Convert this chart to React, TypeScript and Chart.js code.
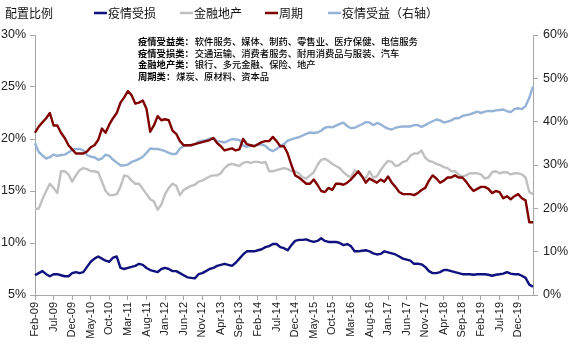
import React, { useEffect, useRef } from "react";
import { Chart, registerables } from "chart.js";

Chart.register(...registerables);

// ---- categories: monthly, Feb-09 .. Apr-20 ----
const MONTH_NAMES = ["Jan", "Feb", "Mar", "Apr", "May", "Jun", "Jul", "Aug", "Sep", "Oct", "Nov", "Dec"];
const START_YEAR = 2009;
const START_MONTH = 1; // Feb
const N_POINTS = 135;
const categories: string[] = [];
for (let i = 0; i < N_POINTS; i++) {
  const m = START_MONTH + i;
  const y = START_YEAR + Math.floor(m / 12);
  categories.push(`${MONTH_NAMES[m % 12]}-${String(y % 100).padStart(2, "0")}`);
}

// ---- series (percent) ----
// 疫情受损 (left axis)
const hurtSeries = [
  6.9, 7.1, 7.3, 7.0, 6.8, 7.0, 7.0, 6.9, 6.8, 6.8,
  7.1, 7.2, 7.1, 7.2, 7.7, 8.2, 8.5, 8.7, 8.5, 8.3,
  8.2, 8.6, 8.7, 7.6, 7.5, 7.6, 7.7, 7.8, 8.0, 7.9,
  7.6, 7.4, 7.3, 7.2, 7.5, 7.6, 7.5, 7.3, 7.3, 7.1,
  6.9, 6.7, 6.65, 6.6, 7.0, 7.1, 7.3, 7.5, 7.6, 7.8,
  7.9, 8.0, 7.9, 7.8, 8.1, 8.5, 8.9, 9.2, 9.2, 9.2,
  9.3, 9.4, 9.6, 9.7, 9.9, 9.9, 9.6, 9.5, 9.3, 9.8,
  10.2, 10.3, 10.3, 10.35, 10.2, 10.1, 10.2, 10.45, 10.2, 10.1,
  10.1, 10.1, 10.0, 9.8, 9.9, 9.7, 9.2, 9.2, 9.25, 9.3,
  9.2, 9.0, 8.9, 8.95, 9.2, 9.1, 9.0, 8.9, 8.7, 8.5,
  8.4, 8.3, 8.0, 8.0, 7.95, 7.7, 7.3, 7.1, 7.1, 7.2,
  7.4, 7.4, 7.3, 7.2, 7.1, 7.0, 7.0, 7.0, 6.95, 7.0,
  7.0, 7.0, 6.95, 6.85, 6.95, 7.0, 7.05, 7.2, 7.05, 7.0,
  7.0, 6.85, 6.65, 6.0, 5.8,
];

// 金融地产 (left axis)
const financeSeries = [
  13.3, 13.3, 14.2, 15.0, 15.7, 15.3, 14.8, 16.9, 16.9, 16.6,
  15.9, 16.5, 17.0, 17.2, 17.1, 16.9, 16.9, 16.8, 15.9, 15.0,
  14.6, 14.6, 14.7, 15.4, 16.5, 16.4, 16.0, 15.7, 15.7, 15.2,
  14.7, 14.2, 14.0, 13.2, 13.7, 14.7, 15.3, 15.7, 15.5, 14.6,
  15.1, 15.3, 15.5, 15.6, 15.9, 16.0, 16.2, 16.4, 16.5, 16.5,
  16.7, 17.2, 17.5, 17.6, 17.5, 17.4, 17.7, 17.8, 17.7, 17.8,
  17.8, 17.7, 17.8, 16.9, 16.9, 17.0, 17.1, 17.2, 17.1, 16.9,
  16.9, 16.7, 16.3, 16.2, 16.5, 16.8, 17.5, 18.0, 18.1, 17.9,
  17.6, 17.4, 17.2, 16.8, 16.5, 16.3, 17.0, 16.8, 16.4, 16.2,
  16.9, 16.3, 16.4, 17.0, 17.5, 17.9, 17.8, 17.4, 17.5, 17.8,
  17.9, 18.4, 18.6, 18.6, 18.9, 18.2, 17.9, 17.8, 17.6, 17.5,
  17.3, 17.2, 16.9, 16.9, 16.6, 16.4, 16.5, 16.7, 16.7, 16.7,
  16.6, 16.2, 16.3, 16.8, 16.9, 16.7, 16.8, 16.8, 16.6, 16.7,
  16.7, 16.6, 16.3, 14.9, 14.7,
];

// 周期 (left axis)
const cyclicalSeries = [
  20.6, 21.2, 21.6, 22.0, 22.5, 21.3, 21.3, 20.6, 20.1, 19.4,
  19.0, 18.6, 18.6, 18.6, 18.8, 19.2, 19.4, 19.9, 21.0, 20.6,
  21.4, 22.0, 22.5, 23.5, 24.0, 24.6, 24.2, 23.4, 23.5, 23.7,
  22.9, 20.7, 21.3, 22.2, 21.8, 21.9, 21.8, 20.8, 20.5, 19.8,
  19.4, 19.4, 19.4, 19.5, 19.6, 19.7, 19.8, 19.9, 20.1, 19.6,
  19.3, 18.9, 19.0, 19.1, 18.9, 19.0, 20.0, 19.5, 19.4, 19.3,
  19.5, 19.7, 19.8, 19.8, 20.2, 19.8, 19.3, 19.3, 18.6, 17.5,
  16.5, 16.3, 16.0, 15.7, 15.7, 16.1, 15.6, 15.0, 14.9, 15.3,
  15.1, 15.7, 15.7, 15.6, 15.8, 16.1, 16.5, 16.9, 16.4, 15.8,
  16.2, 16.0, 15.8, 16.1, 15.9, 16.4, 15.8, 15.4, 14.9, 14.7,
  14.7, 14.7, 14.6, 14.8, 15.1, 15.3, 16.0, 16.5, 16.2, 15.8,
  16.0, 16.3, 16.3, 16.5, 16.3, 16.3, 15.9, 15.4, 15.0, 15.2,
  15.4, 15.4, 15.2, 14.8, 15.0, 14.9, 14.3, 14.5, 14.2, 14.5,
  14.7, 14.3, 14.1, 12.0, 12.0,
];

// 疫情受益 (right axis)
const benefitSeries = [
  35.0, 33.0, 32.2, 31.5, 31.8, 32.4, 32.1, 32.3, 32.4, 32.9,
  33.5, 33.7, 33.7, 33.4, 32.3, 31.9, 31.8, 31.2, 31.5, 32.4,
  32.1, 31.2, 30.6, 29.9, 29.9, 30.1, 30.7, 31.0, 31.4, 31.9,
  32.8, 33.8, 33.7, 33.7, 33.5, 33.2, 32.8, 32.5, 32.6, 33.8,
  34.4, 34.5, 34.6, 34.8, 35.4, 35.6, 35.7, 36.1, 36.2, 35.5,
  35.4, 35.2, 35.6, 36.0, 35.9, 35.8, 34.5, 34.2, 34.5, 34.4,
  34.8, 34.7, 34.4, 33.6, 33.2, 33.7, 34.4, 34.8, 35.6, 35.9,
  36.2, 36.4, 36.8, 37.2, 37.5, 37.4, 37.5, 37.9, 38.6, 38.8,
  38.7, 39.1, 39.5, 39.8, 39.0, 38.5, 38.6, 39.0, 39.4, 39.9,
  39.8, 39.2, 39.7, 39.4, 38.8, 38.4, 38.2, 38.6, 38.8, 38.9,
  38.9, 38.9, 39.2, 39.2, 38.8, 39.2, 39.7, 40.1, 40.5, 40.3,
  39.8, 40.0, 40.3, 40.8, 40.8, 41.3, 41.5, 41.7, 42.0, 42.3,
  42.0, 42.3, 42.5, 42.4, 42.6, 42.7, 42.8, 42.4, 42.2, 42.9,
  43.1, 42.9, 43.6, 45.5, 48.1,
];

const seriesNames = ["疫情受损", "金融地产", "周期", "疫情受益（右轴）"];
const seriesColors = ["#10107f", "#c0c0c0", "#800000", "#95b3d7"];

const leftTicks = [5, 10, 15, 20, 25, 30];
const rightTicks = [0, 10, 20, 30, 40, 50, 60];

const yTitle = "配置比例";
const noteLines: [string, string][] = [
  ["疫情受益类：", "软件服务、媒体、制药、零售业、医疗保健、电信服务"],
  ["疫情受损类：", "交通运输、消费者服务、耐用消费品与服装、汽车"],
  ["金融地产类：", "银行、多元金融、保险、地产"],
  ["周期类：", "煤炭、原材料、资本品"],
];

const CJK = '"Noto Sans CJK SC", sans-serif';
const AXIS_COLOR = "#a6a6a6";

const textPlugin = {
  id: "textPlugin",
  afterDraw(chart: any) {
    const ctx = chart.ctx as CanvasRenderingContext2D;
    ctx.save();
    ctx.fillStyle = "#111";
    ctx.textBaseline = "middle";
    ctx.textAlign = "left";
    ctx.font = `12px ${CJK}`;
    ctx.fillText(yTitle, 5, 13);

    // legend
    const legendX = [94, 180, 265, 328];
    seriesNames.forEach((name, i) => {
      const x = legendX[i];
      ctx.strokeStyle = seriesColors[i];
      ctx.lineWidth = 2.5;
      ctx.beginPath();
      ctx.moveTo(x, 13);
      ctx.lineTo(x + 13, 13);
      ctx.stroke();
      ctx.fillStyle = "#111";
      ctx.font = `12px ${CJK}`;
      ctx.fillText(name, x + 14, 13);
    });

    // notes
    const noteY = [41.5, 53, 64.5, 76];
    noteLines.forEach(([head, body], i) => {
      ctx.fillStyle = "#000";
      ctx.font = `bold 9.3px ${CJK}`;
      ctx.fillText(head, 138, noteY[i]);
      const w = ctx.measureText(head).width;
      ctx.font = `500 9.3px ${CJK}`;
      ctx.fillText(body, 138 + w + 1, noteY[i]);
    });
    ctx.restore();
  },
};

export default function App() {
  const ref = useRef<HTMLCanvasElement | null>(null);

  useEffect(() => {
    if (!ref.current) return;
    Chart.defaults.font.family = '"Liberation Sans", Arial, sans-serif';
    const mkLine = (label: string, data: number[], color: string, axis: string) => ({
      label,
      data,
      borderColor: color,
      backgroundColor: color,
      borderWidth: 2.4,
      pointRadius: 0,
      tension: 0,
      yAxisID: axis,
      borderJoinStyle: "round" as const,
    });
    const chart = new Chart(ref.current, {
      type: "line",
      data: {
        labels: categories,
        datasets: [
          mkLine(seriesNames[0], hurtSeries, seriesColors[0], "y"),
          mkLine(seriesNames[2], cyclicalSeries, seriesColors[2], "y"),
          mkLine(seriesNames[3], benefitSeries, seriesColors[3], "y1"),
          mkLine(seriesNames[1], financeSeries, seriesColors[1], "y"),
        ],
      },
      options: {
        responsive: false,
        animation: false,
        devicePixelRatio: 1,
        layout: { padding: { top: 35, left: 0, right: 0, bottom: 0 } },
        plugins: {
          legend: { display: false },
          tooltip: { enabled: false },
          title: { display: false },
        },
        scales: {
          x: {
            type: "category",
            offset: false,
            grid: { drawOnChartArea: false, drawTicks: true, tickLength: 5, color: AXIS_COLOR },
            border: { display: true, color: AXIS_COLOR, width: 1 },
            ticks: {
              autoSkip: false,
              minRotation: 90,
              maxRotation: 90,
              padding: 2,
              color: "#222",
              font: { size: 11 },
              callback: (_v: any, i: number) => (i % 5 === 0 ? categories[i] : null),
            },
            afterFit: (s: any) => {
              s.height = 57;
            },
          },
          y: {
            position: "left",
            min: leftTicks[0],
            max: leftTicks[leftTicks.length - 1],
            grid: { drawOnChartArea: false, drawTicks: true, tickLength: 5, color: AXIS_COLOR },
            border: { display: true, color: AXIS_COLOR, width: 1 },
            ticks: {
              stepSize: 5,
              padding: 4,
              color: "#222",
              font: { size: 12.5 },
              callback: (v: any) => `${v}%`,
            },
            afterFit: (s: any) => {
              s.width = 35;
            },
          },
          y1: {
            position: "right",
            min: rightTicks[0],
            max: rightTicks[rightTicks.length - 1],
            grid: { drawOnChartArea: false, drawTicks: true, tickLength: 5, color: AXIS_COLOR },
            border: { display: true, color: AXIS_COLOR, width: 1 },
            ticks: {
              stepSize: 10,
              padding: 5,
              color: "#222",
              font: { size: 12.5 },
              callback: (v: any) => `${v}%`,
            },
            afterFit: (s: any) => {
              s.width = 39;
            },
          },
        },
      },
      plugins: [textPlugin],
    });
    return () => chart.destroy();
  }, []);

  return (
    <div style={{ position: "fixed", left: 0, top: 0, width: 572, height: 352, background: "#fff" }}>
      <canvas ref={ref} width={572} height={352} style={{ width: 572, height: 352, display: "block" }} />
    </div>
  );
}
